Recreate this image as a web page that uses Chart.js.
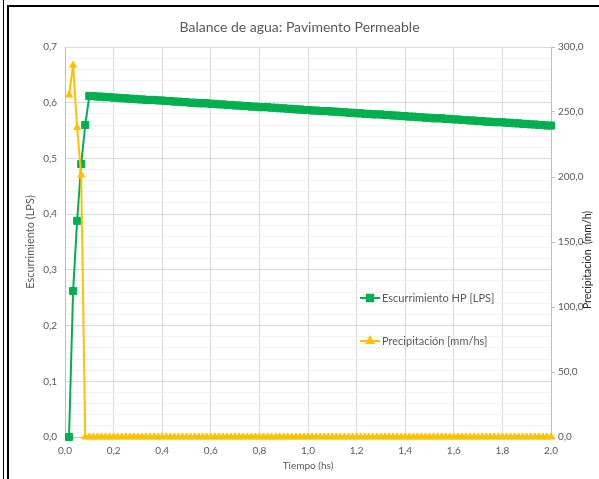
<!DOCTYPE html>
<html>
<head>
<meta charset="utf-8">
<title>Balance de agua: Pavimento Permeable</title>
<script src="https://cdn.jsdelivr.net/npm/chart.js@4"></script>
<style>
  html, body { margin: 0; padding: 0; background: #fff; }
  #wrap { position: relative; width: 599px; height: 479px; overflow: hidden; background: #fff; }
  #wrap canvas { position: absolute; left: 0; top: 0; }
  .borde { position: absolute; background: #000; }
</style>
</head>
<body>
<div id="wrap">
  <canvas id="grafico" width="599" height="479"></canvas>
  <div class="borde" style="left:3px;top:0;width:1px;height:479px"></div>
  <div class="borde" style="left:7px;top:5px;width:2px;height:474px"></div>
  <div class="borde" style="left:7px;top:5px;width:592px;height:2px"></div>
</div>
<script>
// Tiempo de simulación, en minutos
const tiempoMin = [
  1, 2, 3, 4, 5, 6, 7, 8, 9, 10, 11, 12, 13, 14, 15, 16, 17, 18, 19, 20,
  21, 22, 23, 24, 25, 26, 27, 28, 29, 30, 31, 32, 33, 34, 35, 36, 37, 38, 39, 40,
  41, 42, 43, 44, 45, 46, 47, 48, 49, 50, 51, 52, 53, 54, 55, 56, 57, 58, 59, 60,
  61, 62, 63, 64, 65, 66, 67, 68, 69, 70, 71, 72, 73, 74, 75, 76, 77, 78, 79, 80,
  81, 82, 83, 84, 85, 86, 87, 88, 89, 90, 91, 92, 93, 94, 95, 96, 97, 98, 99, 100,
  101, 102, 103, 104, 105, 106, 107, 108, 109, 110, 111, 112, 113, 114, 115, 116, 117, 118, 119, 120
];

// Escurrimiento HP [LPS]
const escurrimiento = [
  0.000, 0.262, 0.388, 0.490, 0.560,
  0.612, 0.612, 0.611, 0.611, 0.610,
  0.610, 0.609, 0.609, 0.608, 0.608,
  0.607, 0.607, 0.606, 0.606, 0.605,
  0.605, 0.605, 0.604, 0.604, 0.603,
  0.603, 0.602, 0.602, 0.601, 0.601,
  0.600, 0.600, 0.599, 0.599, 0.599,
  0.598, 0.598, 0.597, 0.597, 0.596,
  0.596, 0.595, 0.595, 0.594, 0.594,
  0.593, 0.593, 0.592, 0.592, 0.592,
  0.591, 0.591, 0.590, 0.590, 0.589,
  0.589, 0.588, 0.588, 0.587, 0.587,
  0.586, 0.586, 0.585, 0.585, 0.585,
  0.584, 0.584, 0.583, 0.583, 0.582,
  0.582, 0.581, 0.581, 0.580, 0.580,
  0.579, 0.579, 0.579, 0.578, 0.578,
  0.577, 0.577, 0.576, 0.576, 0.575,
  0.575, 0.574, 0.574, 0.573, 0.573,
  0.572, 0.572, 0.572, 0.571, 0.571,
  0.570, 0.570, 0.569, 0.569, 0.568,
  0.568, 0.567, 0.567, 0.566, 0.566,
  0.565, 0.565, 0.565, 0.564, 0.564,
  0.563, 0.563, 0.562, 0.562, 0.561,
  0.561, 0.560, 0.560, 0.559, 0.559
];

// Precipitación [mm/hs]
const precipitacion = [
  263.0, 286.0, 238.0, 201.5,
  0, 0, 0, 0, 0, 0, 0, 0, 0, 0, 0, 0, 0, 0, 0, 0, 0, 0, 0, 0,
  0, 0, 0, 0, 0, 0, 0, 0, 0, 0, 0, 0, 0, 0, 0, 0, 0, 0, 0, 0,
  0, 0, 0, 0, 0, 0, 0, 0, 0, 0, 0, 0, 0, 0, 0, 0, 0, 0, 0, 0,
  0, 0, 0, 0, 0, 0, 0, 0, 0, 0, 0, 0, 0, 0, 0, 0, 0, 0, 0, 0,
  0, 0, 0, 0, 0, 0, 0, 0, 0, 0, 0, 0, 0, 0, 0, 0, 0, 0, 0, 0,
  0, 0, 0, 0, 0, 0, 0, 0, 0, 0, 0, 0, 0, 0, 0, 0
];

// Marcas de los ejes
const ticksTiempo = [0, 0.2, 0.4, 0.6, 0.8, 1.0, 1.2, 1.4, 1.6, 1.8, 2.0];
const ticksEscurrimiento = [0, 0.1, 0.2, 0.3, 0.4, 0.5, 0.6, 0.7];
const ticksPrecipitacion = [0, 50, 100, 150, 200, 250, 300];

const FUENTE = 'Lato, "Open Sans", sans-serif';
const GRIS_TEXTO = '#595959';
const GRIS_EJE = '#bfbfbf';
const VERDE = '#00b050';
const AMARILLO = '#ffc000';

const coma1 = v => Number(v).toFixed(1).replace('.', ',');
const esMayor = v => ticksEscurrimiento.some(t => Math.abs(t - v) < 1e-9);

// Líneas de división menores: cinco por cada intervalo principal
const divisionesIzq = [];
for (let i = 0; i < ticksEscurrimiento.length - 1; i++) {
  const a = ticksEscurrimiento[i], b = ticksEscurrimiento[i + 1];
  for (let k = 0; k < 5; k++) divisionesIzq.push(a + (b - a) * k / 5);
}
divisionesIzq.push(ticksEscurrimiento[ticksEscurrimiento.length - 1]);

const horas = tiempoMin.map(m => m / 60);

// Leyenda dentro del área de trazado
const leyenda = {
  id: 'leyenda',
  afterDatasetsDraw(chart) {
    const { ctx, chartArea: a } = chart;
    const x0 = a.left + 295;
    const filas = [a.top + 251, a.top + 294];
    chart.data.datasets.forEach((ds, i) => {
      const y = filas[i];
      ctx.save();
      ctx.strokeStyle = ds.borderColor;
      ctx.lineWidth = 2;
      ctx.beginPath();
      ctx.moveTo(x0, y);
      ctx.lineTo(x0 + 20, y);
      ctx.stroke();
      ctx.fillStyle = ds.pointBackgroundColor;
      ctx.strokeStyle = ds.pointBorderColor;
      Chart.helpers.drawPoint(ctx, {
        pointStyle: ds.pointStyle, radius: ds.pointStyle === 'rect' ? 4.5 : 4,
        borderWidth: 1, rotation: 0
      }, x0 + 10, y);
      ctx.fillStyle = GRIS_TEXTO;
      ctx.font = '11px ' + FUENTE;
      ctx.textBaseline = 'middle';
      ctx.textAlign = 'left';
      ctx.fillText(ds.label, x0 + 22, y);
      ctx.restore();
    });
  }
};

// Título del eje secundario, leído de abajo hacia arriba
const tituloDerecho = {
  id: 'tituloDerecho',
  afterDraw(chart) {
    const { ctx, chartArea: a } = chart;
    ctx.save();
    ctx.translate(chart.width - 11, (a.top + a.bottom) / 2 + 18);
    ctx.rotate(-Math.PI / 2);
    ctx.fillStyle = '#262626';
    ctx.font = '10.5px ' + FUENTE;
    ctx.textAlign = 'center';
    ctx.textBaseline = 'middle';
    ctx.fillText('Precipitación  (mm/h)', 0, 0);
    ctx.restore();
  }
};

new Chart(document.getElementById('grafico'), {
  type: 'line',
  data: {
    datasets: [
      {
        label: 'Escurrimiento HP [LPS]',
        data: horas.map((x, i) => ({ x, y: escurrimiento[i] })),
        yAxisID: 'y',
        borderColor: VERDE,
        backgroundColor: VERDE,
        pointBackgroundColor: VERDE,
        pointBorderColor: VERDE,
        borderWidth: 2,
        pointStyle: 'rect',
        pointRadius: 5,
        pointBorderWidth: 1,
        tension: 0,
        clip: false,
        order: 1
      },
      {
        label: 'Precipitación [mm/hs]',
        data: horas.map((x, i) => ({ x, y: precipitacion[i] })),
        yAxisID: 'y2',
        borderColor: AMARILLO,
        backgroundColor: AMARILLO,
        pointBackgroundColor: AMARILLO,
        pointBorderColor: AMARILLO,
        borderWidth: 2,
        pointStyle: 'triangle',
        pointRadius: 4,
        pointBorderWidth: 1,
        tension: 0,
        clip: false,
        order: 0
      }
    ]
  },
  options: {
    responsive: false,
    animation: false,
    devicePixelRatio: 1,
    layout: { padding: 0 },
    plugins: {
      legend: { display: false },
      tooltip: { enabled: false },
      title: {
        display: true,
        text: 'Balance de agua: Pavimento Permeable',
        color: GRIS_TEXTO,
        font: { family: FUENTE, size: 14, weight: 'normal' },
        padding: { top: 19, bottom: 11.2 }
      }
    },
    scales: {
      x: {
        type: 'linear',
        min: 0,
        max: 2,
        afterBuildTicks: s => { s.ticks = ticksTiempo.map(v => ({ value: v })); },
        afterFit: s => { s.height = 42; },
        grid: { color: '#d9d9d9', drawTicks: false },
        border: { color: GRIS_EJE },
        ticks: {
          color: GRIS_TEXTO, padding: 8, maxRotation: 0, autoSkip: false,
          font: { family: FUENTE, size: 10 },
          callback: v => coma1(v)
        },
        title: {
          display: true, text: 'Tiempo (hs)', color: GRIS_TEXTO,
          font: { family: FUENTE, size: 10 }, padding: { top: 0, bottom: 7 }
        }
      },
      y: {
        position: 'left',
        min: 0,
        max: 0.7,
        afterBuildTicks: s => { s.ticks = divisionesIzq.map(v => ({ value: v })); },
        afterFit: s => { s.width = 65; },
        grid: {
          drawTicks: false,
          color: c => esMayor(c.tick.value) ? '#d9d9d9' : '#f2f2f2'
        },
        border: { color: GRIS_EJE },
        ticks: {
          color: GRIS_TEXTO, padding: 8, autoSkip: false,
          font: { family: FUENTE, size: 10 },
          callback: v => esMayor(v) ? coma1(v) : ''
        },
        title: {
          display: true, text: 'Escurrimiento (LPS)', color: GRIS_TEXTO,
          font: { family: FUENTE, size: 11 }, padding: { top: 24, bottom: 0 }
        }
      },
      y2: {
        position: 'right',
        min: 0,
        max: 300,
        afterBuildTicks: s => { s.ticks = ticksPrecipitacion.map(v => ({ value: v })); },
        afterFit: s => { s.width = 48; },
        grid: { drawOnChartArea: false, tickLength: 4, color: GRIS_EJE },
        border: { color: GRIS_EJE },
        ticks: {
          color: GRIS_TEXTO, padding: 3, autoSkip: false,
          font: { family: FUENTE, size: 10 },
          callback: v => coma1(v)
        },
        title: { display: false }
      }
    }
  },
  plugins: [leyenda, tituloDerecho]
});
</script>
</body>
</html>
